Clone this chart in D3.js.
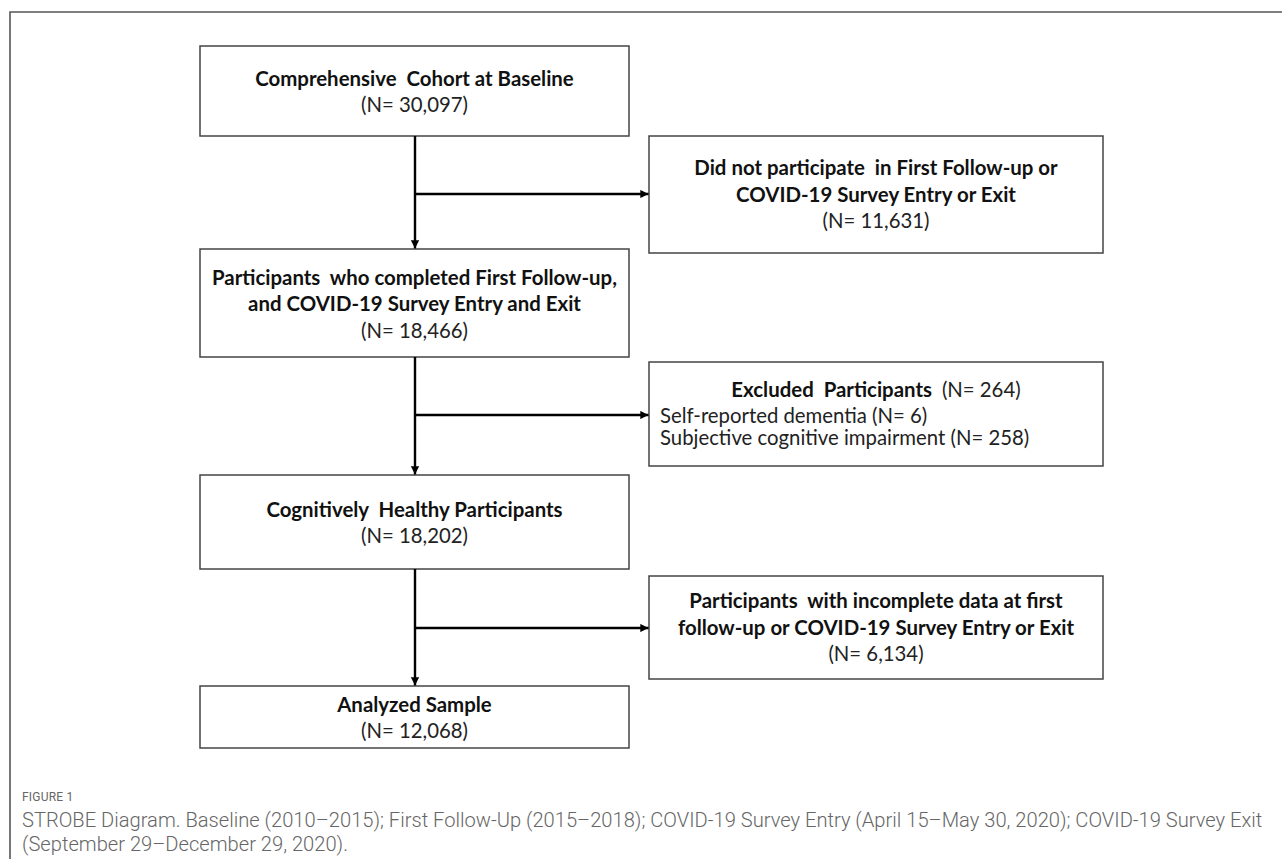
<!DOCTYPE html>
<html>
<head>
<meta charset="utf-8">
<script src="https://cdn.jsdelivr.net/npm/d3@7"></script>
<style>
  html, body { margin: 0; padding: 0; background: #fff; }
  svg { display: block; }
</style>
</head>
<body>
<svg id="chart" width="1282" height="859"></svg>
<script>
// ---- data ----
const mainTitles = [
  ["Comprehensive  Cohort at Baseline"],
  ["Participants  who completed First Follow-up,", "and COVID-19 Survey Entry and Exit"],
  ["Cognitively  Healthy Participants"],
  ["Analyzed Sample"]
];
const mainCounts = ["(N= 30,097)", "(N= 18,466)", "(N= 18,202)", "(N= 12,068)"];

const sideTitles = [
  ["Did not participate  in First Follow-up or", "COVID-19 Survey Entry or Exit"],
  ["Excluded  Participants"],
  ["Participants  with incomplete data at first", "follow-up or COVID-19 Survey Entry or Exit"]
];
const sideCounts = ["(N= 11,631)", "(N= 264)", "(N= 6,134)"];
const sideItems = [
  [],
  ["Self-reported dementia (N= 6)", "Subjective cognitive impairment (N= 258)"],
  []
];

const figureLabel = "FIGURE 1";
const captionLines = [
  "STROBE Diagram. Baseline (2010\u20132015); First Follow-Up (2015\u20132018); COVID-19 Survey Entry (April 15\u2013May 30, 2020); COVID-19 Survey Exit",
  "(September 29\u2013December 29, 2020)."
];

// ---- layout ----
const svg = d3.select("#chart");
const FONT = "Lato, 'Open Sans', sans-serif";

const mainBox = { x0: 200, x1: 629, tops: [46, 249, 475, 686], bots: [136, 357, 569, 748] };
const sideBox = { x0: 649, x1: 1103, tops: [136, 362, 576], bots: [253, 466, 679] };
const branchY = [194, 415, 628];
const spineX = 415;

// outer frame
svg.append("path")
  .attr("d", "M10,870 L10,12 L1290,12")
  .attr("fill", "none").attr("stroke", "#555").attr("stroke-width", 1.6);

// arrow marker
const defs = svg.append("defs");
defs.append("marker").attr("id", "ah")
  .attr("viewBox", "0 0 10 10").attr("refX", 10).attr("refY", 5)
  .attr("markerWidth", 4.2).attr("markerHeight", 3.4).attr("markerUnits", "strokeWidth")
  .attr("orient", "auto")
  .append("path").attr("d", "M0,0 L10,5 L0,10 Z").attr("fill", "#000");

function measure(txt, weight, size, fam) {
  const t = svg.append("text").attr("font-family", fam || FONT).attr("font-weight", weight)
    .attr("font-size", size).style("white-space", "pre").text(txt);
  const w = t.node().getComputedTextLength();
  t.remove();
  return w;
}
const boldSize = 100 * 280 / measure("COVID-19 Survey Entry or Exit", 700, 100);
const regSize = 100 * 107 / measure("(N= 11,631)", 400, 100);

const g = svg.append("g");

mainBox.tops.forEach((t, i) => {
  g.append("rect").attr("x", mainBox.x0).attr("y", t)
    .attr("width", mainBox.x1 - mainBox.x0).attr("height", mainBox.bots[i] - t)
    .attr("fill", "#fff").attr("stroke", "#444").attr("stroke-width", 1.5);
});
sideBox.tops.forEach((t, i) => {
  g.append("rect").attr("x", sideBox.x0).attr("y", t)
    .attr("width", sideBox.x1 - sideBox.x0).attr("height", sideBox.bots[i] - t)
    .attr("fill", "#fff").attr("stroke", "#444").attr("stroke-width", 1.5);
});

for (let i = 0; i < 3; i++) {
  g.append("line").attr("x1", spineX).attr("x2", spineX)
    .attr("y1", mainBox.bots[i]).attr("y2", mainBox.tops[i + 1] - 0.5)
    .attr("stroke", "#000").attr("stroke-width", 2.4).attr("marker-end", "url(#ah)");
  g.append("line").attr("x1", spineX).attr("x2", sideBox.x0 - 0.5)
    .attr("y1", branchY[i]).attr("y2", branchY[i])
    .attr("stroke", "#000").attr("stroke-width", 2.4).attr("marker-end", "url(#ah)");
}

const LH = 26.5;
function block(lines, count, cx, cy) {
  const all = lines.length + 1;
  const y0 = cy - (all - 1) * LH / 2;
  lines.forEach((ln, j) => {
    g.append("text").attr("x", cx).attr("y", y0 + j * LH).attr("dy", "0.35em")
      .attr("text-anchor", "middle").attr("font-family", FONT).attr("font-weight", 700)
      .attr("font-size", boldSize).attr("fill", "#111").style("white-space", "pre").text(ln);
  });
  g.append("text").attr("x", cx).attr("y", y0 + lines.length * LH).attr("dy", "0.35em")
    .attr("text-anchor", "middle").attr("font-family", FONT).attr("font-weight", 400)
    .attr("font-size", regSize).attr("fill", "#222").text(count);
}

mainTitles.forEach((lines, i) => {
  block(lines, mainCounts[i], (mainBox.x0 + mainBox.x1) / 2, (mainBox.tops[i] + mainBox.bots[i]) / 2 + 1);
});

sideTitles.forEach((lines, i) => {
  const cx = (sideBox.x0 + sideBox.x1) / 2;
  const cy = (sideBox.tops[i] + sideBox.bots[i]) / 2;
  if (sideItems[i].length === 0) {
    block(lines, sideCounts[i], cx, cy);
  } else {
    const t = g.append("text").attr("x", cx).attr("y", cy - 23).attr("dy", "0.35em")
      .attr("text-anchor", "middle").attr("font-family", FONT).style("white-space", "pre");
    t.append("tspan").attr("font-weight", 700).attr("font-size", boldSize).attr("fill", "#111").text(lines[0] + "  ");
    t.append("tspan").attr("font-weight", 400).attr("font-size", regSize).attr("fill", "#222").text(sideCounts[i]);
    sideItems[i].forEach((it, j) => {
      g.append("text").attr("x", sideBox.x0 + 11).attr("y", cy + 2 + j * 22).attr("dy", "0.35em")
        .attr("font-family", FONT).attr("font-weight", 400).attr("font-size", regSize)
        .attr("fill", "#222").text(it);
    });
  }
});

// caption
const CAPF = "Roboto, 'Open Sans', sans-serif";
svg.append("text").attr("x", 22).attr("y", 801).attr("font-family", CAPF)
  .attr("font-size", 12).attr("fill", "#666").attr("letter-spacing", 0.2).text(figureLabel);
const capSize = 100 * 1241 / measure(captionLines[0], 300, 100, CAPF);
captionLines.forEach((ln, i) => {
  svg.append("text").attr("x", 22).attr("y", 827 + i * 24).attr("font-family", CAPF)
    .attr("font-weight", 300).attr("font-size", capSize).attr("fill", "#666").text(ln);
});
</script>
</body>
</html>
